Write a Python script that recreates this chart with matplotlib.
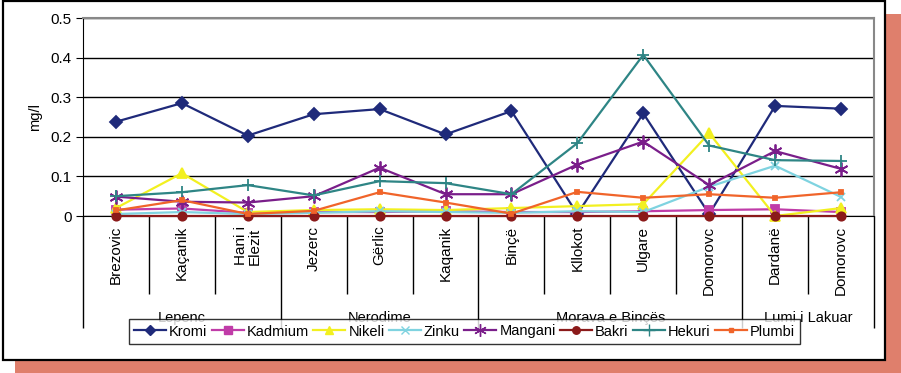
import matplotlib
matplotlib.use("Agg")
import matplotlib.pyplot as plt
from matplotlib.lines import Line2D
from matplotlib.patches import Rectangle

plt.rcParams['font.family'] = ['Liberation Sans', 'DejaVu Sans']

categories = ["Brezovic", "Kaçanik", "Hani i\nElezit", "Jezerc", "Gërlic", "Kaqanik",
              "Binçë", "Kllokot", "Ulgare", "Domorovc", "Dardanë", "Domorovc"]
groups = ["Lepenc", "Nerodime", "Morava e Binçës", "Lumi i Lakuar"]
group_bounds = [0, 3, 6, 10, 12]

kromi   = [0.238, 0.285, 0.203, 0.257, 0.270, 0.206, 0.265, 0.005, 0.259, 0.005, 0.278, 0.271]
kadmium = [0.016, 0.019, 0.008, 0.010, 0.010, 0.012, 0.010, 0.010, 0.012, 0.015, 0.017, 0.010]
nikeli  = [0.020, 0.108, 0.010, 0.015, 0.017, 0.015, 0.020, 0.025, 0.030, 0.209, 0.000, 0.020]
zinku   = [0.005, 0.010, 0.005, 0.008, 0.012, 0.010, 0.008, 0.012, 0.010, 0.074, 0.127, 0.048]
mangani = [0.049, 0.036, 0.034, 0.050, 0.122, 0.055, 0.055, 0.130, 0.188, 0.078, 0.164, 0.119]
bakri   = [0.001, 0.001, 0.001, 0.001, 0.001, 0.001, 0.001, 0.001, 0.001, 0.001, 0.001, 0.001]
hekuri  = [0.050, 0.060, 0.078, 0.052, 0.088, 0.083, 0.055, 0.184, 0.407, 0.178, 0.141, 0.139]
plumbi  = [0.014, 0.040, 0.005, 0.013, 0.060, 0.034, 0.006, 0.061, 0.046, 0.055, 0.046, 0.060]

series = [
    ("Kromi", kromi, "#1F2A7A", "D", 6, "#1F2A7A"),
    ("Kadmium", kadmium, "#C03CA8", "s", 6, "#C03CA8"),
    ("Nikeli", nikeli, "#F2F020", "^", 7, "#F2F020"),
    ("Zinku", zinku, "#7FD3E0", "x", 6, "#7FD3E0"),
    ("Mangani", mangani, "#7A1E8A", (6, 2, 0), 10, "#7A1E8A"),
    ("Bakri", bakri, "#8B1A1A", "o", 6, "#8B1A1A"),
    ("Hekuri", hekuri, "#2E8585", "+", 9, "#2E8585"),
    ("Plumbi", plumbi, "#F0642A", "s", 3.5, "#F0642A"),
]

W, H = 901, 373
fig = plt.figure(figsize=(W / 100, H / 100), dpi=100)
fig.patch.set_facecolor("white")

# shadow and frame
fig.patches.append(Rectangle((15 / W, 0), (W - 15) / W, 1 - 14 / H, transform=fig.transFigure,
                             facecolor="#DF7F6C", edgecolor="none", zorder=0))
fig.patches.append(Rectangle((3 / W, 1 - 360 / H), (885 - 3) / W, 360 / H - 0.002,
                             transform=fig.transFigure, facecolor="white",
                             edgecolor="black", linewidth=1.6, zorder=1))

L, R, T, B = 83, 874, 18, 216
ax = fig.add_axes([L / W, 1 - B / H, (R - L) / W, (B - T) / H])
ax.set_zorder(2)
ax.set_facecolor("white")

n = len(categories)
xs = [i + 0.5 for i in range(n)]
for name, vals, col, mk, ms, mc in series:
    ax.plot(xs, vals, color=col, lw=1.6, marker=mk, markersize=ms,
            markerfacecolor=mc, markeredgecolor=mc, markeredgewidth=1.3, clip_on=False, zorder=3)

ax.set_xlim(0, n)
ax.set_ylim(0, 0.5)
ax.set_yticks([0, 0.1, 0.2, 0.3, 0.4, 0.5])
ax.set_yticklabels(["0", "0.1", "0.2", "0.3", "0.4", "0.5"])
ax.yaxis.grid(True, color="black", lw=1.0)
ax.set_axisbelow(True)
for s in ["top", "right"]:
    ax.spines[s].set_color("#888888")
    ax.spines[s].set_linewidth(1.5)
ax.spines["left"].set_color("black")
ax.spines["bottom"].set_color("black")
ax.tick_params(axis="y", direction="out", length=5, labelsize=11, pad=3, color="black")
ax.set_ylabel("mg/l", fontsize=10.5, labelpad=6)

# category ticks
minor = [i for i in range(n + 1) if i not in group_bounds]
ax.set_xticks(group_bounds)
ax.set_xticklabels([""] * len(group_bounds))
ax.set_xticks(minor, minor=True)
ax.tick_params(axis="x", which="major", direction="out", length=(328 - B) * 0.72, width=1, color="black")
ax.tick_params(axis="x", which="minor", direction="out", length=(294 - B) * 0.72, width=1, color="black")
ax.set_xticklabels([""] * len(minor), minor=True)

for x, lab in zip(xs, categories):
    ax.annotate(lab, xy=(x, 0), xycoords=("data", "axes fraction"), xytext=(0, -7),
                textcoords="offset points", rotation=90, ha="center", va="top",
                fontsize=11, multialignment="left", linespacing=0.95, annotation_clip=False)

for g, a, b in zip(groups, group_bounds[:-1], group_bounds[1:]):
    ax.annotate(g, xy=((a + b) / 2, 0), xycoords=("data", "axes fraction"),
                xytext=(0, -(318 - B) * 0.72), textcoords="offset points",
                ha="center", va="center", fontsize=10.5, annotation_clip=False)

handles = [Line2D([], [], color=col, lw=1.6, marker=mk, markersize=ms * 0.9,
                  markerfacecolor=mc, markeredgecolor=mc) for name, vals, col, mk, ms, mc in series]
labels = [s[0] for s in series]
leg = fig.legend(handles, labels, ncol=8, loc="center",
                 bbox_to_anchor=((127 + 802) / 2 / W, 1 - (317 + 346) / 2 / H),
                 fontsize=10.5, frameon=True, fancybox=False, handlelength=2.2,
                 handletextpad=0.2, columnspacing=0.3, borderpad=0.35, borderaxespad=0)
leg.get_frame().set_edgecolor("black")
leg.get_frame().set_linewidth(1.0)
leg.set_zorder(5)

fig.savefig("out.png", dpi=100)
